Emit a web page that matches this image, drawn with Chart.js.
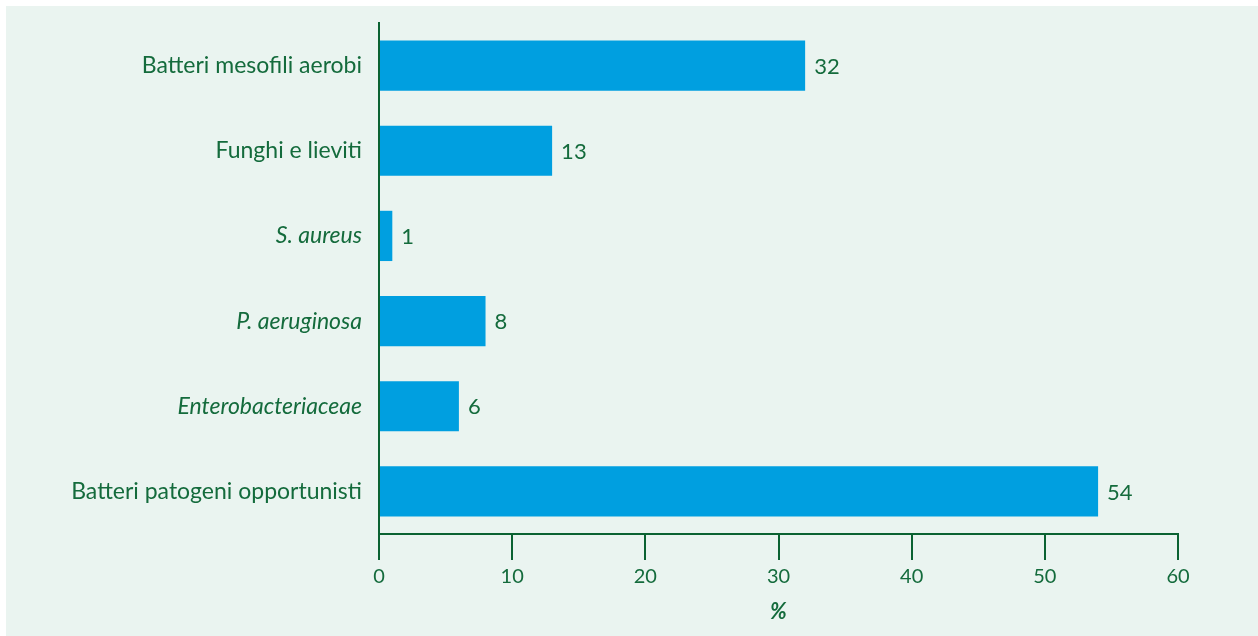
<!DOCTYPE html>
<html>
<head>
<meta charset="utf-8">
<script src="https://cdn.jsdelivr.net/npm/chart.js@4/dist/chart.umd.min.js"></script>
<style>
  html, body { margin: 0; padding: 0; background: #ffffff; }
  #panel {
    position: absolute; left: 6px; top: 6px;
    width: 1252px; height: 630px;
    background: #eaf4f0;
  }
</style>
</head>
<body>
<div id="panel"><canvas id="chart" width="1252" height="630"></canvas></div>
<script>
// data
const categories = [
    'Batteri mesofili aerobi',
    'Funghi e lieviti',
    'S. aureus',
    'P. aeruginosa',
    'Enterobacteriaceae',
    'Batteri patogeni opportunisti'
];
const values = [32, 13, 1, 8, 6, 54];
const italicLabels = [false, false, true, true, true, false];
const xTicks = [0, 10, 20, 30, 40, 50, 60];
const xTitle = '%';

const textColor = '#146b3c';
const axisColor = '#0b6232';
const barColor = '#009fe0';
const fontFamily = 'Lato, "Open Sans", sans-serif';

// value labels at the end of each bar
const valueLabels = {
    id: 'valueLabels',
    afterDatasetsDraw(chart) {
        const ctx = chart.ctx;
        const meta = chart.getDatasetMeta(0);
        ctx.save();
        ctx.fillStyle = textColor;
        ctx.font = '22px ' + fontFamily;
        ctx.textAlign = 'left';
        ctx.textBaseline = 'middle';
        meta.data.forEach((bar, i) => {
            ctx.fillText(String(values[i]), bar.x + 9, bar.y + 1);
        });
        ctx.restore();
    }
};

new Chart(document.getElementById('chart'), {
    type: 'bar',
    data: {
        labels: categories,
        datasets: [{
            data: values,
            backgroundColor: barColor,
            borderWidth: 0,
            categoryPercentage: 1,
            barPercentage: 0.59
        }]
    },
    plugins: [valueLabels],
    options: {
        indexAxis: 'y',
        responsive: false,
        animation: false,
        layout: { padding: { top: 17, right: 80, bottom: 0, left: 0 } },
        plugins: {
            legend: { display: false },
            tooltip: { enabled: false }
        },
        scales: {
            y: {
                afterFit(scale) {
                    scale.width = 373;
                    scale.paddingTop = 0;
                    scale.paddingBottom = 0;
                },
                grid: { display: false, drawTicks: false },
                border: { display: true, color: axisColor, width: 2 },
                ticks: {
                    padding: 17,
                    color: textColor,
                    font: (c) => ({
                        family: fontFamily,
                        size: 23,
                        style: italicLabels[c.index] ? 'italic' : 'normal'
                    })
                }
            },
            x: {
                min: 0,
                max: 60,
                afterFit(scale) { scale.height = 102; },
                afterBuildTicks(scale) {
                    scale.ticks = xTicks.map(v => ({ value: v }));
                },
                grid: {
                    display: true,
                    drawOnChartArea: false,
                    drawTicks: true,
                    tickLength: 26,
                    color: axisColor,
                    lineWidth: 2
                },
                border: { display: true, color: axisColor, width: 2 },
                ticks: {
                    padding: 5,
                    color: textColor,
                    font: { family: fontFamily, size: 20 }
                },
                title: {
                    display: true,
                    text: xTitle,
                    color: textColor,
                    font: { family: fontFamily, size: 22, weight: 'bold', style: 'italic' },
                    padding: { top: 0, bottom: 11 }
                }
            }
        }
    }
});
</script>
</body>
</html>
